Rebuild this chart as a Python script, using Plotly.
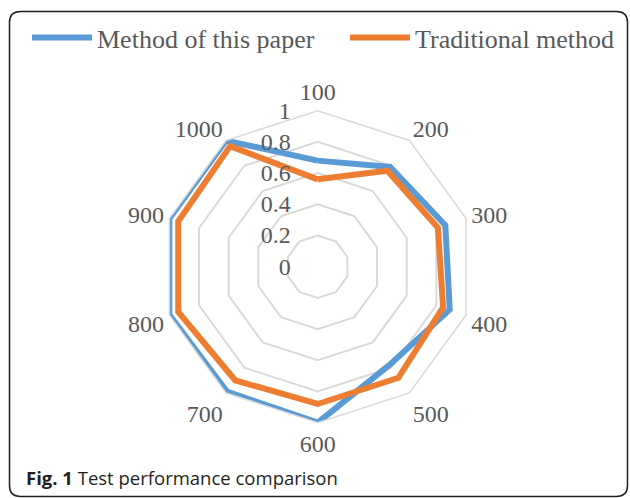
import plotly.graph_objects as go

W, H = 630, 498

categories = ["100", "200", "300", "400", "500", "600", "700", "800", "900", "1000"]
method_paper = [0.68, 0.79, 0.86, 0.89, 0.78, 1.0, 0.99, 1.0, 1.0, 1.0]
traditional = [0.56, 0.76, 0.81, 0.845, 0.88, 0.88, 0.90, 0.94, 0.94, 0.955]
radial_ticks = [0, 0.2, 0.4, 0.6, 0.8, 1]


def px(x, y):
    # pixel -> paper coordinates
    return x / W, 1 - y / H


def rounded_rect(x0, y0, x1, y1, r):
    def p(x, y):
        a, b = px(x, y)
        return f"{a:.5f},{b:.5f}"
    return (f"M{p(x0 + r, y0)} L{p(x1 - r, y0)} Q{p(x1, y0)} {p(x1, y0 + r)} "
            f"L{p(x1, y1 - r)} Q{p(x1, y1)} {p(x1 - r, y1)} "
            f"L{p(x0 + r, y1)} Q{p(x0, y1)} {p(x0, y1 - r)} "
            f"L{p(x0, y0 + r)} Q{p(x0, y0)} {p(x0 + r, y0)} Z")


fig = go.Figure()

# close the polygons
fig.add_trace(go.Scatterpolar(
    r=method_paper + method_paper[:1], theta=categories + categories[:1],
    mode="lines", name="Method of this paper", showlegend=True,
    line=dict(color="#5B9BD5", width=6),
))
fig.add_trace(go.Scatterpolar(
    r=traditional + traditional[:1], theta=categories + categories[:1],
    mode="lines", name="Traditional method", legend="legend2", showlegend=True,
    line=dict(color="#ED7D31", width=6),
))

cx, cy, R = 317.7, 266.7, 156
dx0, dy0 = px(cx - R, cy + R)
dx1, dy1 = px(cx + R, cy - R)

grid = "#D9D9D9"
legend_style = dict(
    orientation="h", y=1 - 14 / H, xanchor="left", yanchor="top",
    font=dict(size=26, color="#595959"), itemwidth=60,
    bgcolor="rgba(0,0,0,0)",
)
fig.update_layout(
    width=W, height=H,
    margin=dict(l=0, r=0, t=0, b=0),
    paper_bgcolor="white",
    plot_bgcolor="white",
    showlegend=True,
    font=dict(family="Liberation Serif", color="#595959", size=24),
    polar=dict(
        domain=dict(x=[dx0, dx1], y=[dy0, dy1]),
        bgcolor="white",
        gridshape="linear",
        radialaxis=dict(
            range=[0, 1], tickvals=radial_ticks,
            ticktext=["0", "0.2", "0.4", "0.6", "0.8", "1"],
            angle=90, tickangle=90, side="counterclockwise",
            showline=False, gridcolor=grid, gridwidth=1.5,
            ticks="outside", ticklen=18, tickcolor="rgba(0,0,0,0)",
            tickfont=dict(size=24, color="#595959"),
        ),
        angularaxis=dict(
            direction="clockwise", rotation=90,
            showgrid=False, showline=True, linecolor=grid, linewidth=1.5,
            ticks="", tickfont=dict(size=24, color="#595959"),
        ),
    ),
    legend=dict(x=27 / W, **legend_style),
    legend2=dict(x=345 / W, **legend_style),
    shapes=[dict(type="path", xref="paper", yref="paper",
                 path=rounded_rect(9.5, 11.5, 627.5, 496.5, 11),
                 line=dict(color="#231F20", width=1.5))],
    annotations=[dict(
        xref="paper", yref="paper", x=24 / W, y=1 - 477 / H,
        xanchor="left", yanchor="middle", showarrow=False,
        text="<b>Fig. 1</b> Test performance comparison",
        font=dict(family="Open Sans", size=18.5, color="#231F20"),
    )],
)

# page body margin would shift the figure by 8px
fig.write_html("out.html", config={"displayModeBar": False},
               post_script="document.body.style.margin='0';")
